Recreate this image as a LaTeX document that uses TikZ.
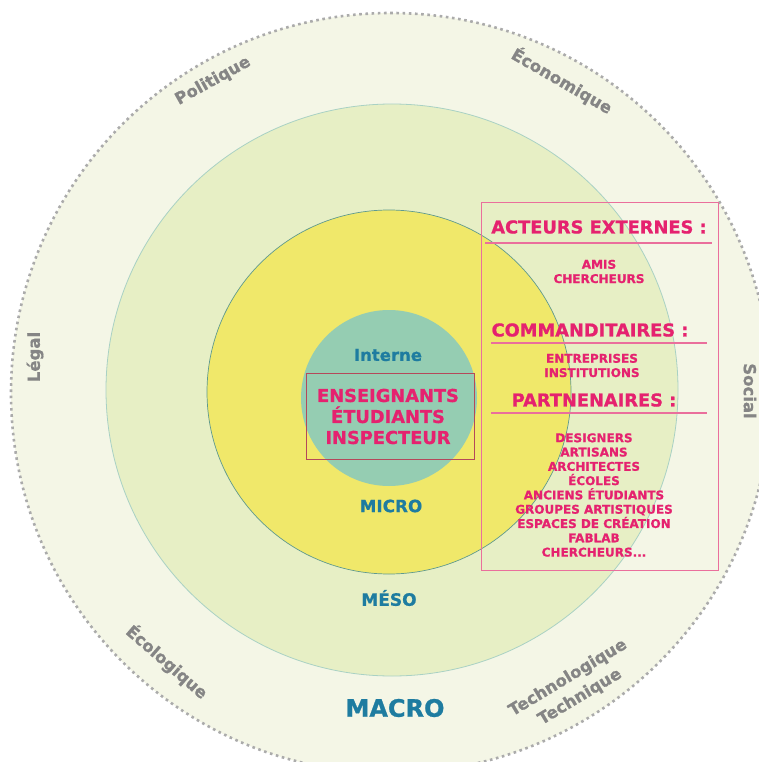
\documentclass[tikz,border=0pt]{standalone}
\usepackage{fontspec}
\setmainfont{DejaVu Sans}[BoldFeatures={FakeBold=0.9}]
\definecolor{outerfill}{HTML}{F4F6E6}
\definecolor{ringfill}{HTML}{E7EFC5}
\definecolor{ringline}{HTML}{A9D1C4}
\definecolor{yel}{HTML}{F0E86A}
\definecolor{yelline}{HTML}{5F9A8F}
\definecolor{teal}{HTML}{95CDB2}
\definecolor{bluetxt}{HTML}{1E7CA0}
\definecolor{pinktxt}{HTML}{E5226F}
\definecolor{pinkline}{HTML}{EA6F9C}
\definecolor{boxred}{HTML}{B5485A}
\definecolor{graytxt}{HTML}{858585}
\definecolor{dotgray}{HTML}{ABABAB}
\tikzset{
  fs/.style={font=\fontsize{#1}{#1}\selectfont\bfseries},
  fsl/.style 2 args={font=\fontsize{#1}{#2}\selectfont\bfseries},
  levellabel/.style={text=bluetxt, inner sep=0pt},
  dimlabel/.style={text=graytxt, inner sep=0pt, fs=16.5},
  pinkhead/.style={text=pinktxt, inner sep=0pt, fs=17.8},
  pinklist/.style={text=pinktxt, inner sep=0pt, align=center, fsl={12}{14.3}},
  underline/.style={pinkline, line width=1.2pt},
}
\begin{document}
\begin{tikzpicture}[x=1pt,y=-1pt]
\useasboundingbox (0,0) rectangle (759,762);
\clip (0,0) rectangle (759,762);
% circles
\fill[outerfill] (391,393) circle[radius=380pt];
\draw[dotgray, line width=2.6pt, dash pattern=on 2.6pt off 3.6pt] (391,393) circle[radius=380pt];
\draw[ringline, fill=ringfill, line width=0.8pt] (392,390) circle[radius=286pt];
\draw[yelline, fill=yel, line width=0.7pt] (389,392) circle[radius=182pt];
\fill[teal] (389,398) circle[radius=88pt];
% center
\node[levellabel, fs=16.5] (interne) at (388,355) {Interne};
\node[draw=boxred, line width=0.8pt, minimum width=168pt, minimum height=86pt, inner sep=0pt] (centerbox) at (390,416) {};
\node[text=pinktxt, align=center, fsl={17.8}{21}, inner sep=0pt] (acteursint) at (388,416.5) {ENSEIGNANTS\\ÉTUDIANTS\\INSPECTEUR};
\node[levellabel, fs=16.8] (micro) at (391,506) {MICRO};
\node[levellabel, fs=17] (meso) at (389,598) {MÉSO};
\node[levellabel, fs=24] (macro) at (395,708) {MACRO};
% dimension labels
\node[dimlabel, rotate=29] (politique) at (213,81) {Politique};
\node[dimlabel, rotate=-30] (economique) at (562,81) {Économique};
\node[dimlabel, rotate=90] (legal) at (35,357) {Légal};
\node[dimlabel, rotate=-90] (social) at (750,391) {Social};
\node[dimlabel, rotate=-41] (ecologique) at (167,662) {Écologique};
\node[dimlabel, rotate=31] (techno) at (568,678) {Technologique};
\node[dimlabel, rotate=31] (technique) at (580,697) {Technique};
% right box
\node[draw=pinkline, line width=1pt, minimum width=237pt, minimum height=368pt, inner sep=0pt] (extbox) at (599.5,386) {};
\node[pinkhead] (h1) at (599,227) {ACTEURS EXTERNES :};
\coordinate (l1a) at (485,243); \coordinate (l1b) at (712,243);
\draw[underline] (l1a) -- (l1b);
\node[pinklist] (t1) at (599,271.5) {AMIS\\CHERCHEURS};
\node[pinkhead] (h2) at (590,330) {COMMANDITAIRES :};
\coordinate (l2a) at (491,343); \coordinate (l2b) at (707,343);
\draw[underline] (l2a) -- (l2b);
\node[pinklist] (t2) at (592,365.5) {ENTREPRISES\\INSTITUTIONS};
\node[pinkhead] (h3) at (594,400) {PARTNENAIRES :};
\coordinate (l3a) at (491,413); \coordinate (l3b) at (707,413);
\draw[underline] (l3a) -- (l3b);
\node[pinklist] (t3) at (594,495) {DESIGNERS\\ARTISANS\\ARCHITECTES\\ÉCOLES\\ANCIENS ÉTUDIANTS\\GROUPES ARTISTIQUES\\ESPACES DE CRÉATION\\FABLAB\\CHERCHEURS...};
\end{tikzpicture}
\end{document}
